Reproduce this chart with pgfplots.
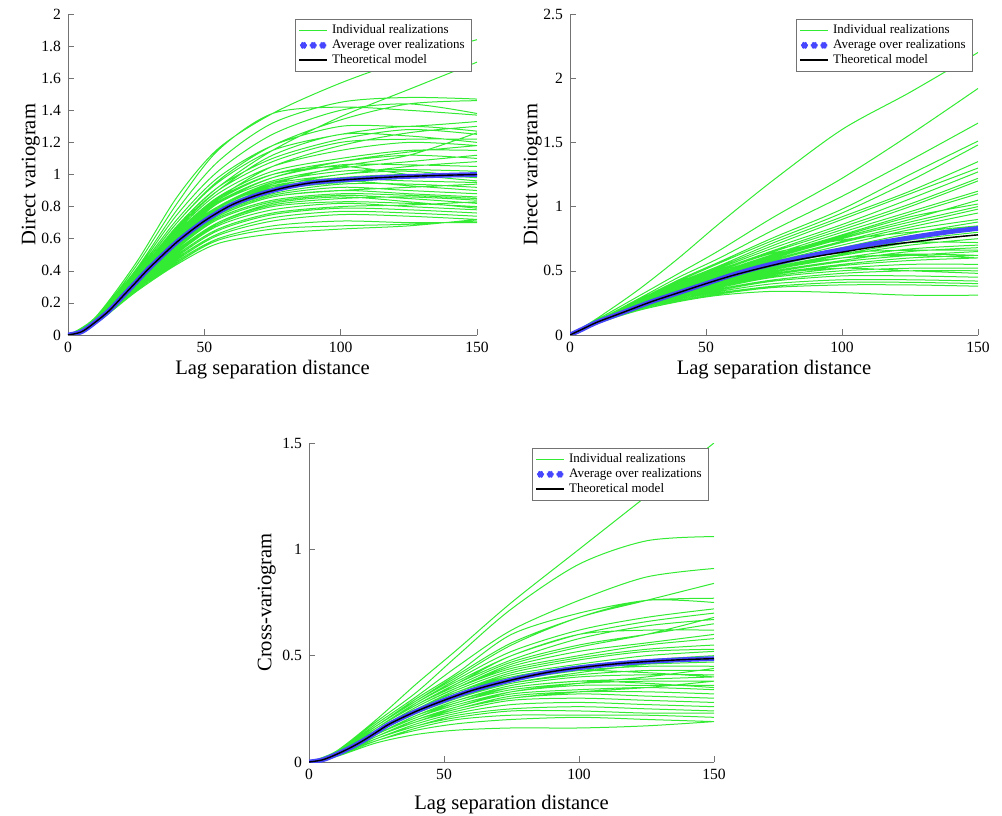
\documentclass[border=0pt]{standalone}
\usepackage{fontspec}
\setmainfont{Liberation Serif}
\usepackage{pgfplots}
\pgfplotsset{compat=1.18}
\definecolor{rz}{RGB}{50,235,50}
\definecolor{avgblue}{RGB}{70,70,255}
\pgfplotsset{
 vario/.style={scale only axis, axis lines=left, axis line style={-, black!55},
   tick align=inside, tick style={black!55}, major tick length=3pt,
   xmin=0, xmax=150, xtick={0,50,100,150}, ymin=0,
   tick label style={font=\fontsize{7.8}{9}\selectfont},
   label style={font=\fontsize{10.3}{12}\selectfont},
   /pgf/number format/assume math mode=true, /pgf/number format/fixed,
   xlabel={Lag separation distance}, unbounded coords=jump,
   legend style={at={(0.988,0.984)}, anchor=north east, draw=black!55, fill=white,
     font=\fontsize{6.5}{7.5}\selectfont, row sep=-2.6pt, inner xsep=1.5pt, inner ysep=0.5pt},
   legend image code/.code={\draw[#1] (0cm,0cm) -- (0.5cm,0cm);},
   legend cell align=left},
 reallg/.style={draw=rz, color=rz, line width=0.5pt, solid, smooth, no markers},
 avg/.style={avgblue, line width=2.4pt, smooth, no markers,
   legend image code/.code={\draw[avgblue] plot[only marks, mark=asterisk, mark size=1.4pt] coordinates {(0.08cm,0cm) (0.25cm,0cm) (0.42cm,0cm)};}},
 theo/.style={black, line width=0.7pt, smooth, no markers}
}
\begin{document}
\begin{tikzpicture}
\path[use as bounding box] (0pt,0pt) rectangle (501pt,407.5pt);
% ---------------- Panel 1 ----------------
\begin{axis}[vario, at={(34pt,240pt)}, anchor=south west, width=204.5pt, height=160.5pt,
  ymax=2, ytick={0,0.2,...,2}, ylabel={Direct variogram},
  ylabel style={yshift=-6pt}, xlabel style={yshift=3pt}]
\addplot[reallg] coordinates {
(0,0)(10,0.11)(25,0.45)(40,0.86)(55,1.16)(75,1.38)(100,1.57)(125,1.72)(150,1.84)
(0,nan)(0,0)(10,0.09)(25,0.37)(40,0.68)(55,0.92)(75,1.15)(100,1.36)(125,1.53)(150,1.70)
(0,nan)(0,0)(10,0.10)(25,0.43)(40,0.82)(55,1.15)(75,1.38)(100,1.42)(125,1.40)(150,1.37)
(0,nan)(0,0)(10,0.10)(25,0.41)(40,0.78)(55,1.08)(75,1.32)(100,1.45)(125,1.48)(150,1.47)
(0,nan)(0,0)(10,0.10)(25,0.40)(40,0.75)(55,1.02)(75,1.25)(100,1.40)(125,1.44)(150,1.38)
(0,nan)(0,0)(10,0.09)(25,0.39)(40,0.72)(55,0.98)(75,1.18)(100,1.30)(125,1.30)(150,1.33)
(0,nan)(0,0)(10,0.09)(25,0.38)(40,0.70)(55,0.95)(75,1.15)(100,1.25)(125,1.30)(150,1.27)
(0,nan)(0,0)(10,0.09)(25,0.37)(40,0.68)(55,0.92)(75,1.10)(100,1.22)(125,1.28)(150,1.25)
(0,nan)(0,0)(10,0.09)(25,0.37)(40,0.67)(55,0.90)(75,1.08)(100,1.20)(125,1.22)(150,1.22)
(0,nan)(0,0)(10,0.09)(25,0.36)(40,0.65)(55,0.88)(75,1.05)(100,1.15)(125,1.20)(150,1.18)
(0,nan)(0,0)(10,0.08)(25,0.36)(40,0.64)(55,0.86)(75,1.02)(100,1.10)(125,1.15)(150,1.15)
(0,nan)(0,0)(10,0.08)(25,0.35)(40,0.63)(55,0.84)(75,1.00)(100,1.08)(125,1.12)(150,1.10)
(0,nan)(0,0)(10,0.08)(25,0.35)(40,0.62)(55,0.83)(75,0.98)(100,1.06)(125,1.06)(150,1.05)
(0,nan)(0,0)(10,0.08)(25,0.35)(40,0.61)(55,0.82)(75,0.96)(100,1.04)(125,1.08)(150,1.12)
(0,nan)(0,0)(10,0.08)(25,0.34)(40,0.60)(55,0.80)(75,0.95)(100,1.02)(125,1.03)(150,1.02)
(0,nan)(0,0)(10,0.08)(25,0.34)(40,0.60)(55,0.80)(75,0.94)(100,1.00)(125,1.05)(150,1.08)
(0,nan)(0,0)(10,0.08)(25,0.34)(40,0.59)(55,0.79)(75,0.93)(100,0.98)(125,1.00)(150,0.98)
(0,nan)(0,0)(10,0.08)(25,0.33)(40,0.58)(55,0.78)(75,0.91)(100,0.97)(125,0.96)(150,0.95)
(0,nan)(0,0)(10,0.08)(25,0.33)(40,0.58)(55,0.77)(75,0.90)(100,0.95)(125,0.98)(150,1.00)
(0,nan)(0,0)(10,0.08)(25,0.33)(40,0.57)(55,0.76)(75,0.88)(100,0.94)(125,0.94)(150,0.92)
(0,nan)(0,0)(10,0.08)(25,0.32)(40,0.56)(55,0.75)(75,0.87)(100,0.92)(125,0.90)(150,0.88)
(0,nan)(0,0)(10,0.08)(25,0.32)(40,0.56)(55,0.74)(75,0.86)(100,0.90)(125,0.92)(150,0.94)
(0,nan)(0,0)(10,0.08)(25,0.32)(40,0.55)(55,0.73)(75,0.84)(100,0.88)(125,0.87)(150,0.85)
(0,nan)(0,0)(10,0.07)(25,0.31)(40,0.54)(55,0.72)(75,0.83)(100,0.87)(125,0.85)(150,0.82)
(0,nan)(0,0)(10,0.07)(25,0.31)(40,0.53)(55,0.70)(75,0.81)(100,0.85)(125,0.86)(150,0.84)
(0,nan)(0,0)(10,0.07)(25,0.31)(40,0.52)(55,0.69)(75,0.80)(100,0.83)(125,0.82)(150,0.80)
(0,nan)(0,0)(10,0.07)(25,0.30)(40,0.51)(55,0.68)(75,0.78)(100,0.82)(125,0.80)(150,0.78)
(0,nan)(0,0)(10,0.07)(25,0.30)(40,0.50)(55,0.66)(75,0.76)(100,0.80)(125,0.81)(150,0.83)
(0,nan)(0,0)(10,0.07)(25,0.30)(40,0.49)(55,0.65)(75,0.75)(100,0.79)(125,0.78)(150,0.76)
(0,nan)(0,0)(10,0.07)(25,0.29)(40,0.48)(55,0.63)(75,0.73)(100,0.77)(125,0.76)(150,0.74)
(0,nan)(0,0)(10,0.07)(25,0.29)(40,0.47)(55,0.62)(75,0.71)(100,0.75)(125,0.74)(150,0.72)
(0,nan)(0,0)(10,0.07)(25,0.28)(40,0.46)(55,0.60)(75,0.68)(100,0.71)(125,0.70)(150,0.70)
(0,nan)(0,0)(10,0.07)(25,0.28)(40,0.45)(55,0.59)(75,0.66)(100,0.68)(125,0.69)(150,0.71)
(0,nan)(0,0)(10,0.07)(25,0.27)(40,0.44)(55,0.57)(75,0.63)(100,0.66)(125,0.68)(150,0.72)
(0,nan)(0,0)(10,0.08)(25,0.34)(40,0.62)(55,0.85)(75,1.05)(100,1.18)(125,1.26)(150,1.30)
(0,nan)(0,0)(10,0.09)(25,0.36)(40,0.66)(55,0.90)(75,1.12)(100,1.25)(125,1.24)(150,1.20)
(0,nan)(0,0)(10,0.08)(25,0.33)(40,0.60)(55,0.82)(75,0.98)(100,1.08)(125,1.14)(150,1.18)
(0,nan)(0,0)(10,0.08)(25,0.35)(40,0.63)(55,0.85)(75,1.00)(100,1.05)(125,1.00)(150,0.96)
(0,nan)(0,0)(10,0.08)(25,0.32)(40,0.57)(55,0.78)(75,0.92)(100,1.00)(125,1.02)(150,0.98)
(0,nan)(0,0)(10,0.07)(25,0.31)(40,0.55)(55,0.74)(75,0.86)(100,0.90)(125,0.88)(150,0.86)
(0,nan)(0,0)(10,0.08)(25,0.33)(40,0.59)(55,0.80)(75,0.94)(100,1.05)(125,1.12)(150,1.26)
(0,nan)(0,0)(10,0.07)(25,0.30)(40,0.52)(55,0.70)(75,0.82)(100,0.86)(125,0.83)(150,0.79)
(0,nan)(0,0)(10,0.08)(25,0.34)(40,0.61)(55,0.80)(75,0.92)(100,0.96)(125,0.93)(150,0.90)
(0,nan)(0,0)(10,0.09)(25,0.38)(40,0.70)(55,0.96)(75,1.18)(100,1.34)(125,1.44)(150,1.46)
};
\addlegendentry{Individual realizations}
\addplot[avg] coordinates {(0,0)(5,0.02)(10,0.08)(15,0.15)(20,0.24)(25,0.33)(30,0.42)(40,0.58)(50,0.71)(60,0.81)(70,0.875)(80,0.92)(90,0.95)(100,0.965)(110,0.976)(120,0.985)(130,0.991)(140,0.996)(150,1.0)};
\addlegendentry{Average over realizations}
\addplot[theo] coordinates {(0,0)(5,0.02)(10,0.08)(15,0.15)(20,0.24)(25,0.33)(30,0.42)(40,0.58)(50,0.71)(60,0.81)(70,0.875)(80,0.92)(90,0.95)(100,0.965)(110,0.976)(120,0.985)(130,0.991)(140,0.996)(150,1.0)};
\addlegendentry{Theoretical model}
\end{axis}
% ---------------- Panel 2 ----------------
\begin{axis}[vario, at={(285pt,240pt)}, anchor=south west, width=204pt, height=160.5pt,
  ymax=2.5, ytick={0,0.5,...,2.5}, ylabel={Direct variogram},
  ylabel style={yshift=-6pt}, xlabel style={yshift=3pt}]
\addplot[reallg] coordinates {
(0,0)(10,0.13)(25,0.35)(40,0.60)(55,0.87)(75,1.21)(100,1.60)(125,1.89)(150,2.20)
(0,nan)(0,0)(10,0.12)(25,0.30)(40,0.48)(55,0.66)(75,0.92)(100,1.22)(125,1.56)(150,1.92)
(0,nan)(0,0)(10,0.11)(25,0.28)(40,0.45)(55,0.60)(75,0.82)(100,1.08)(125,1.36)(150,1.65)
(0,nan)(0,0)(10,0.11)(25,0.27)(40,0.43)(55,0.57)(75,0.76)(100,0.98)(125,1.25)(150,1.51)
(0,nan)(0,0)(10,0.11)(25,0.27)(40,0.42)(55,0.56)(75,0.74)(100,0.95)(125,1.20)(150,1.48)
(0,nan)(0,0)(10,0.11)(25,0.26)(40,0.41)(55,0.54)(75,0.72)(100,0.92)(125,1.12)(150,1.35)
(0,nan)(0,0)(10,0.11)(25,0.26)(40,0.40)(55,0.53)(75,0.70)(100,0.90)(125,1.10)(150,1.30)
(0,nan)(0,0)(10,0.10)(25,0.25)(40,0.39)(55,0.52)(75,0.68)(100,0.86)(125,1.06)(150,1.27)
(0,nan)(0,0)(10,0.10)(25,0.25)(40,0.39)(55,0.51)(75,0.66)(100,0.84)(125,1.02)(150,1.22)
(0,nan)(0,0)(10,0.10)(25,0.25)(40,0.38)(55,0.50)(75,0.65)(100,0.82)(125,1.00)(150,1.20)
(0,nan)(0,0)(10,0.10)(25,0.24)(40,0.37)(55,0.49)(75,0.63)(100,0.80)(125,0.96)(150,1.12)
(0,nan)(0,0)(10,0.10)(25,0.24)(40,0.37)(55,0.48)(75,0.62)(100,0.78)(125,0.94)(150,1.10)
(0,nan)(0,0)(10,0.10)(25,0.24)(40,0.36)(55,0.47)(75,0.61)(100,0.76)(125,0.90)(150,1.05)
(0,nan)(0,0)(10,0.10)(25,0.24)(40,0.36)(55,0.47)(75,0.60)(100,0.75)(125,0.88)(150,1.00)
(0,nan)(0,0)(10,0.10)(25,0.23)(40,0.35)(55,0.46)(75,0.59)(100,0.73)(125,0.86)(150,0.98)
(0,nan)(0,0)(10,0.10)(25,0.23)(40,0.35)(55,0.45)(75,0.58)(100,0.72)(125,0.84)(150,0.95)
(0,nan)(0,0)(10,0.10)(25,0.23)(40,0.35)(55,0.45)(75,0.57)(100,0.70)(125,0.82)(150,0.90)
(0,nan)(0,0)(10,0.10)(25,0.23)(40,0.34)(55,0.44)(75,0.56)(100,0.68)(125,0.79)(150,0.88)
(0,nan)(0,0)(10,0.10)(25,0.23)(40,0.34)(55,0.44)(75,0.55)(100,0.67)(125,0.77)(150,0.85)
(0,nan)(0,0)(10,0.10)(25,0.22)(40,0.33)(55,0.43)(75,0.54)(100,0.65)(125,0.74)(150,0.80)
(0,nan)(0,0)(10,0.10)(25,0.22)(40,0.33)(55,0.42)(75,0.53)(100,0.63)(125,0.72)(150,0.78)
(0,nan)(0,0)(10,0.10)(25,0.22)(40,0.33)(55,0.42)(75,0.52)(100,0.62)(125,0.70)(150,0.75)
(0,nan)(0,0)(10,0.10)(25,0.22)(40,0.32)(55,0.41)(75,0.51)(100,0.60)(125,0.67)(150,0.70)
(0,nan)(0,0)(10,0.10)(25,0.22)(40,0.32)(55,0.41)(75,0.50)(100,0.58)(125,0.65)(150,0.68)
(0,nan)(0,0)(10,0.09)(25,0.21)(40,0.31)(55,0.40)(75,0.49)(100,0.57)(125,0.62)(150,0.65)
(0,nan)(0,0)(10,0.09)(25,0.21)(40,0.31)(55,0.39)(75,0.48)(100,0.55)(125,0.60)(150,0.62)
(0,nan)(0,0)(10,0.09)(25,0.21)(40,0.30)(55,0.38)(75,0.47)(100,0.54)(125,0.58)(150,0.60)
(0,nan)(0,0)(10,0.09)(25,0.21)(40,0.30)(55,0.38)(75,0.46)(100,0.52)(125,0.55)(150,0.55)
(0,nan)(0,0)(10,0.09)(25,0.21)(40,0.30)(55,0.37)(75,0.45)(100,0.50)(125,0.52)(150,0.52)
(0,nan)(0,0)(10,0.09)(25,0.20)(40,0.29)(55,0.36)(75,0.43)(100,0.48)(125,0.50)(150,0.50)
(0,nan)(0,0)(10,0.09)(25,0.20)(40,0.29)(55,0.35)(75,0.42)(100,0.46)(125,0.46)(150,0.45)
(0,nan)(0,0)(10,0.09)(25,0.20)(40,0.28)(55,0.34)(75,0.40)(100,0.43)(125,0.43)(150,0.42)
(0,nan)(0,0)(10,0.09)(25,0.20)(40,0.28)(55,0.33)(75,0.38)(100,0.41)(125,0.41)(150,0.40)
(0,nan)(0,0)(10,0.09)(25,0.20)(40,0.27)(55,0.32)(75,0.37)(100,0.39)(125,0.39)(150,0.38)
(0,nan)(0,0)(10,0.09)(25,0.19)(40,0.26)(55,0.31)(75,0.34)(100,0.33)(125,0.31)(150,0.31)
(0,nan)(0,0)(10,0.10)(25,0.23)(40,0.36)(55,0.48)(75,0.62)(100,0.77)(125,0.92)(150,1.02)
(0,nan)(0,0)(10,0.10)(25,0.22)(40,0.34)(55,0.44)(75,0.55)(100,0.66)(125,0.72)(150,0.72)
(0,nan)(0,0)(10,0.10)(25,0.23)(40,0.35)(55,0.45)(75,0.56)(100,0.64)(125,0.66)(150,0.66)
(0,nan)(0,0)(10,0.10)(25,0.22)(40,0.33)(55,0.42)(75,0.52)(100,0.60)(125,0.62)(150,0.60)
(0,nan)(0,0)(10,0.09)(25,0.21)(40,0.31)(55,0.40)(75,0.48)(100,0.52)(125,0.50)(150,0.48)
(0,nan)(0,0)(10,0.10)(25,0.24)(40,0.38)(55,0.50)(75,0.64)(100,0.74)(125,0.80)(150,0.85)
(0,nan)(0,0)(10,0.10)(25,0.23)(40,0.34)(55,0.43)(75,0.53)(100,0.60)(125,0.63)(150,0.62)
};
\addlegendentry{Individual realizations}
\addplot[avg] coordinates {(0,0)(5,0.05)(10,0.10)(20,0.18)(30,0.26)(40,0.33)(50,0.40)(60,0.47)(70,0.53)(80,0.58)(90,0.625)(100,0.665)(110,0.705)(120,0.74)(130,0.775)(140,0.805)(150,0.83)};
\addlegendentry{Average over realizations}
\addplot[theo] coordinates {(0,0)(5,0.05)(10,0.10)(20,0.18)(30,0.26)(40,0.33)(50,0.40)(60,0.465)(70,0.52)(80,0.57)(90,0.61)(100,0.645)(110,0.68)(120,0.71)(130,0.735)(140,0.76)(150,0.78)};
\addlegendentry{Theoretical model}
\end{axis}
% ---------------- Panel 3 ----------------
\begin{axis}[vario, at={(154.5pt,26.5pt)}, anchor=south west, width=202.5pt, height=159.5pt,
  ymax=1.5, ytick={0,0.5,1,1.5}, ylabel={Cross-variogram},
  ylabel style={yshift=-3.5pt}, xlabel style={yshift=-1pt}]
\addplot[reallg] coordinates {
(0,0)(10,0.05)(25,0.20)(40,0.37)(55,0.53)(75,0.75)(100,1.00)(125,1.25)(150,1.50)
(0,nan)(0,0)(10,0.05)(25,0.19)(40,0.33)(55,0.50)(75,0.72)(100,0.93)(125,1.04)(150,1.06)
(0,nan)(0,0)(10,0.045)(25,0.18)(40,0.31)(55,0.45)(75,0.62)(100,0.76)(125,0.87)(150,0.91)
(0,nan)(0,0)(10,0.045)(25,0.17)(40,0.29)(55,0.41)(75,0.56)(100,0.68)(125,0.76)(150,0.84)
(0,nan)(0,0)(10,0.045)(25,0.17)(40,0.30)(55,0.42)(75,0.60)(100,0.70)(125,0.76)(150,0.77)
(0,nan)(0,0)(10,0.04)(25,0.17)(40,0.29)(55,0.40)(75,0.55)(100,0.68)(125,0.76)(150,0.75)
(0,nan)(0,0)(10,0.04)(25,0.16)(40,0.28)(55,0.39)(75,0.52)(100,0.62)(125,0.68)(150,0.72)
(0,nan)(0,0)(10,0.04)(25,0.16)(40,0.28)(55,0.38)(75,0.50)(100,0.60)(125,0.66)(150,0.70)
(0,nan)(0,0)(10,0.04)(25,0.16)(40,0.27)(55,0.37)(75,0.48)(100,0.58)(125,0.64)(150,0.67)
(0,nan)(0,0)(10,0.04)(25,0.16)(40,0.27)(55,0.37)(75,0.50)(100,0.60)(125,0.62)(150,0.62)
(0,nan)(0,0)(10,0.04)(25,0.16)(40,0.27)(55,0.36)(75,0.47)(100,0.55)(125,0.60)(150,0.65)
(0,nan)(0,0)(10,0.04)(25,0.15)(40,0.26)(55,0.35)(75,0.45)(100,0.52)(125,0.56)(150,0.60)
(0,nan)(0,0)(10,0.04)(25,0.15)(40,0.26)(55,0.35)(75,0.44)(100,0.50)(125,0.55)(150,0.58)
(0,nan)(0,0)(10,0.04)(25,0.15)(40,0.25)(55,0.34)(75,0.43)(100,0.49)(125,0.53)(150,0.55)
(0,nan)(0,0)(10,0.04)(25,0.15)(40,0.25)(55,0.33)(75,0.42)(100,0.48)(125,0.52)(150,0.53)
(0,nan)(0,0)(10,0.04)(25,0.15)(40,0.25)(55,0.33)(75,0.41)(100,0.46)(125,0.50)(150,0.52)
(0,nan)(0,0)(10,0.035)(25,0.14)(40,0.24)(55,0.32)(75,0.40)(100,0.45)(125,0.48)(150,0.50)
(0,nan)(0,0)(10,0.035)(25,0.14)(40,0.24)(55,0.31)(75,0.39)(100,0.44)(125,0.46)(150,0.47)
(0,nan)(0,0)(10,0.035)(25,0.14)(40,0.23)(55,0.30)(75,0.38)(100,0.43)(125,0.45)(150,0.45)
(0,nan)(0,0)(10,0.035)(25,0.14)(40,0.23)(55,0.30)(75,0.37)(100,0.41)(125,0.43)(150,0.43)
(0,nan)(0,0)(10,0.035)(25,0.13)(40,0.22)(55,0.29)(75,0.36)(100,0.40)(125,0.41)(150,0.41)
(0,nan)(0,0)(10,0.035)(25,0.13)(40,0.22)(55,0.28)(75,0.35)(100,0.38)(125,0.39)(150,0.40)
(0,nan)(0,0)(10,0.035)(25,0.13)(40,0.21)(55,0.28)(75,0.34)(100,0.37)(125,0.38)(150,0.38)
(0,nan)(0,0)(10,0.03)(25,0.13)(40,0.21)(55,0.27)(75,0.33)(100,0.36)(125,0.36)(150,0.36)
(0,nan)(0,0)(10,0.03)(25,0.12)(40,0.20)(55,0.26)(75,0.32)(100,0.34)(125,0.35)(150,0.34)
(0,nan)(0,0)(10,0.03)(25,0.12)(40,0.20)(55,0.25)(75,0.31)(100,0.33)(125,0.33)(150,0.32)
(0,nan)(0,0)(10,0.03)(25,0.12)(40,0.19)(55,0.25)(75,0.30)(100,0.32)(125,0.31)(150,0.30)
(0,nan)(0,0)(10,0.03)(25,0.12)(40,0.19)(55,0.24)(75,0.29)(100,0.30)(125,0.29)(150,0.28)
(0,nan)(0,0)(10,0.03)(25,0.11)(40,0.18)(55,0.23)(75,0.27)(100,0.28)(125,0.27)(150,0.26)
(0,nan)(0,0)(10,0.03)(25,0.11)(40,0.17)(55,0.22)(75,0.25)(100,0.26)(125,0.25)(150,0.24)
(0,nan)(0,0)(10,0.03)(25,0.11)(40,0.17)(55,0.21)(75,0.24)(100,0.24)(125,0.23)(150,0.23)
(0,nan)(0,0)(10,0.03)(25,0.10)(40,0.15)(55,0.18)(75,0.20)(100,0.21)(125,0.20)(150,0.19)
(0,nan)(0,0)(10,0.025)(25,0.09)(40,0.13)(55,0.15)(75,0.16)(100,0.16)(125,0.17)(150,0.19)
(0,nan)(0,0)(10,0.03)(25,0.10)(40,0.16)(55,0.20)(75,0.22)(100,0.22)(125,0.22)(150,0.21)
(0,nan)(0,0)(10,0.04)(25,0.15)(40,0.26)(55,0.35)(75,0.46)(100,0.54)(125,0.60)(150,0.68)
(0,nan)(0,0)(10,0.035)(25,0.14)(40,0.23)(55,0.30)(75,0.37)(100,0.42)(125,0.46)(150,0.49)
(0,nan)(0,0)(10,0.04)(25,0.15)(40,0.25)(55,0.33)(75,0.40)(100,0.43)(125,0.42)(150,0.40)
(0,nan)(0,0)(10,0.03)(25,0.12)(40,0.20)(55,0.26)(75,0.33)(100,0.37)(125,0.40)(150,0.44)
(0,nan)(0,0)(10,0.035)(25,0.13)(40,0.22)(55,0.29)(75,0.35)(100,0.38)(125,0.37)(150,0.35)
(0,nan)(0,0)(10,0.03)(25,0.12)(40,0.19)(55,0.25)(75,0.30)(100,0.33)(125,0.35)(150,0.38)
};
\addlegendentry{Individual realizations}
\addplot[avg] coordinates {(0,0)(5,0.01)(10,0.035)(15,0.065)(20,0.10)(25,0.14)(30,0.18)(40,0.24)(50,0.29)(60,0.335)(70,0.37)(80,0.40)(90,0.425)(100,0.443)(110,0.457)(120,0.468)(130,0.476)(140,0.482)(150,0.486)};
\addlegendentry{Average over realizations}
\addplot[theo] coordinates {(0,0)(5,0.01)(10,0.035)(15,0.065)(20,0.10)(25,0.14)(30,0.18)(40,0.24)(50,0.29)(60,0.335)(70,0.37)(80,0.40)(90,0.425)(100,0.443)(110,0.457)(120,0.468)(130,0.476)(140,0.482)(150,0.486)};
\addlegendentry{Theoretical model}
\end{axis}
\end{tikzpicture}
\end{document}
